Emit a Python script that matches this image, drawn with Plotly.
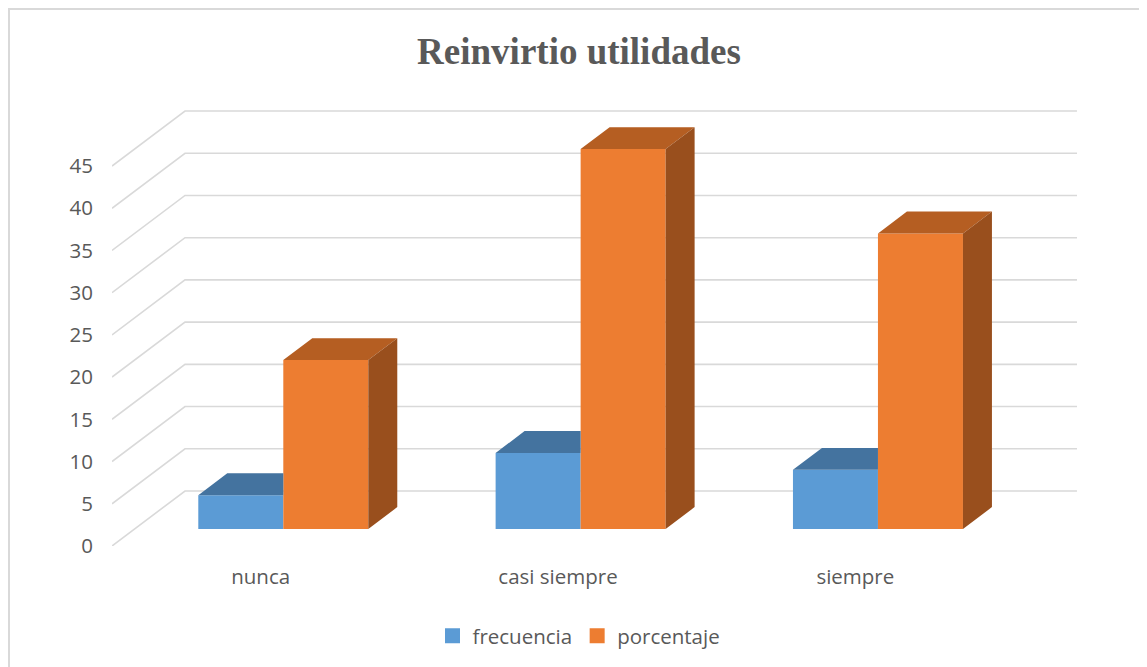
import plotly.graph_objects as go

# ---------------- data ----------------
categories = ["nunca", "casi siempre", "siempre"]
series_names = ["frecuencia", "porcentaje"]
frecuencia = [4, 9, 7]
porcentaje = [20, 45, 35]
y_ticks = [0, 5, 10, 15, 20, 25, 30, 35, 40, 45]
title_text = "Reinvirtio utilidades"

# ---------------- style / geometry ----------------
W, H = 1147, 667
OFF = 8                      # page body margin
L, R, T, B = 112 - OFF, 47 + OFF, 100 - OFF, 121 + OFF
PX_PER_CAT = 297.33
PX_PER_UNIT = 8.444
x_range = [-0.5, -0.5 + (W - L - R) / PX_PER_CAT]
y_range = [0, (H - T - B) / PX_PER_UNIT]
DX = 73 / PX_PER_CAT          # full depth offset in x units
DY = 55 / PX_PER_UNIT         # full depth offset in y units
F0, F1 = 0.31, 0.707          # depth fraction of bar front / back
BAR_W = 85 / PX_PER_CAT
front_colors = ["#5B9BD5", "#ED7D31"]
top_colors = ["#44739F", "#B55E22"]
side_colors = ["#3A6690", "#994F1D"]
grid_color = "#D9D9D9"
text_color = "#595959"
FONT = "Open Sans"
FS = 20.5

values = [frecuencia, porcentaje]
ddx = (F1 - F0) * DX
ddy = (F1 - F0) * DY
base_y = F0 * DY

fig = go.Figure()

# front faces as real bars
for k, (name, vals) in enumerate(zip(series_names, values)):
    fig.add_trace(go.Bar(
        x=[i + F0 * DX for i in range(len(categories))],
        y=vals, base=base_y, width=BAR_W,
        offset=-BAR_W if k == 0 else 0,
        marker=dict(color=front_colors[k], line=dict(width=0)),
        name=name, legendgroup=name, showlegend=False, hoverinfo="skip",
    ))

# top and side faces
for k, vals in enumerate(values):
    tx, ty, sx, sy = [], [], [], []
    for i, v in enumerate(vals):
        x0 = i + F0 * DX + (k - 1) * BAR_W
        x1 = x0 + BAR_W
        yt = base_y + v
        neighbor_taller = k + 1 < len(values) and values[k + 1][i] > v
        if neighbor_taller:
            tx += [x0, x1, x1, x0 + ddx, x0, None]
            ty += [yt, yt, yt + ddy, yt + ddy, yt, None]
        else:
            tx += [x0, x1, x1 + ddx, x0 + ddx, x0, None]
            ty += [yt, yt, yt + ddy, yt + ddy, yt, None]
            sx += [x1, x1, x1 + ddx, x1 + ddx, x1, None]
            sy += [base_y, yt, yt + ddy, base_y + ddy, base_y, None]
    fig.add_trace(go.Scatter(x=tx, y=ty, mode="lines", fill="toself",
                             fillcolor=top_colors[k], line=dict(width=0),
                             showlegend=False, hoverinfo="skip"))
    if sx:
        fig.add_trace(go.Scatter(x=sx, y=sy, mode="lines", fill="toself",
                                 fillcolor=side_colors[k], line=dict(width=0),
                                 showlegend=False, hoverinfo="skip"))

# legend entries (square swatches)
for k, name in enumerate(series_names):
    fig.add_trace(go.Scatter(x=[None], y=[None], mode="markers", name=name,
                             legendgroup=name,
                             marker=dict(symbol="square", size=15,
                                         color=front_colors[k])))

# perspective gridlines (floor diagonal + back wall)
shapes = []
for t in y_ticks:
    path = (f"M {x_range[0]},{t} L {x_range[0] + DX},{t + DY} "
            f"L {len(categories) - 0.5 + DX},{t + DY}")
    shapes.append(dict(type="path", path=path, xref="x", yref="y",
                       line=dict(color=grid_color, width=1.6), layer="below"))

# outer chart border (page coordinates -> paper)
px2x = lambda p: (p - OFF - L) / (W - L - R)
py2y = lambda p: (H - B - (p - OFF)) / (H - T - B)
shapes.append(dict(type="rect", xref="paper", yref="paper",
                   x0=px2x(9), x1=px2x(1170), y0=py2y(700), y1=py2y(9),
                   line=dict(color="#D9D9D9", width=2), layer="below"))

fig.update_layout(
    width=W, height=H,
    margin=dict(l=L, r=R, t=T, b=B),
    paper_bgcolor="white", plot_bgcolor="white",
    barmode="overlay",
    shapes=shapes,
    title=dict(text=f"<b>{title_text}</b>", xref="container", yref="container",
               x=(579 - OFF) / W, y=1 - (51 - OFF) / H,
               xanchor="center", yanchor="middle",
               font=dict(family="Liberation Serif", size=37, color=text_color)),
    xaxis=dict(range=x_range, tickvals=list(range(len(categories))),
               ticktext=categories, showgrid=False, zeroline=False,
               showline=False, ticks="", ticklabelstandoff=16,
               tickfont=dict(family=FONT, size=FS, color=text_color)),
    yaxis=dict(range=y_range, tickvals=y_ticks, showgrid=False,
               zeroline=False, showline=False, ticks="",
               ticklabelstandoff=18,
               tickfont=dict(family=FONT, size=FS, color=text_color)),
    legend=dict(orientation="h", x=px2x(579), y=py2y(636),
                xanchor="center", yanchor="middle",
                font=dict(family=FONT, size=FS, color=text_color),
                itemwidth=30, tracegroupgap=0),
    showlegend=True,
)

fig.write_html("out.html")
